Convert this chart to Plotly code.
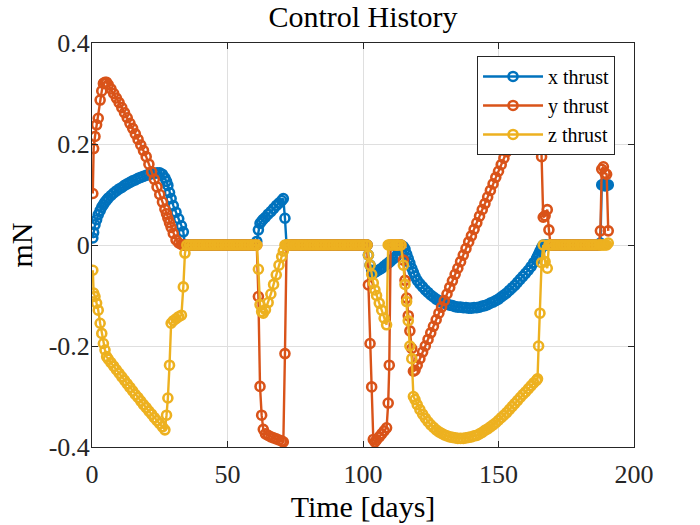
import plotly.graph_objects as go

# values, one shared time axis for the three thrust components
days = [
    0.3, 0.6, 1.1, 1.7, 2.3, 3.0, 3.6, 4.2, 4.8, 5.4,
    6, 7, 8, 9, 10, 11, 12, 13, 14, 15, 16, 17, 18, 19, 20, 21, 22, 23, 24, 25, 26,
    26.9, 27.5, 28.0, 28.6, 29.2, 30, 31, 32, 33, 33.7, 34.3, 35,
    36, 37, 38, 39, 40, 41, 42, 43, 44, 45, 46, 47, 48, 49, 50, 51, 52, 53, 54, 55, 56, 57, 58, 59, 60,
    60.8, 61.4, 62.0, 62.6, 63.2, 64, 65, 66, 67, 68, 69, 70, 70.6, 71.2, 71.8,
    72.5, 73, 74, 75, 76, 77, 78, 79, 80, 81, 82, 83, 84, 85, 86, 87, 88, 89, 90, 91, 92, 93, 94, 95,
    96, 97, 98, 99, 100, 101, 101.5,
    102.0, 102.6, 103.2, 103.8, 104.4, 105, 106, 106.9, 107.8, 108.7, 109.3, 109.7, 110.2, 111, 112,
    112.5, 113, 114, 114.9, 115.5, 116.1, 116.7, 117.3, 118, 118.6, 119.2,
    120, 121, 122, 123, 124, 125, 126, 127, 128, 129,
    130, 131, 132, 133, 134, 135, 136, 137, 138, 139,
    140, 141, 142, 143, 144, 145, 146, 147, 148, 149,
    150, 151, 152, 153, 154, 155, 156, 157, 158, 159,
    160, 161, 162, 163, 164,
    164.4, 164.8, 165.3, 165.9, 166.5, 167.2, 168, 168.6, 169.2, 170,
    171, 172, 173, 174, 175, 176, 177, 178, 179, 180, 181, 182, 183, 184, 185, 186, 187,
    187.6, 188.1, 188.7, 189.3, 189.9, 190.5,
]

x_thrust = [
    0.014, 0.025, 0.04, 0.05, 0.06, 0.068, 0.075, 0.08, 0.085, 0.089,
    0.093, 0.098, 0.103, 0.107, 0.111, 0.114, 0.118, 0.121, 0.124, 0.127, 0.129, 0.132, 0.134, 0.136,
    0.138, 0.14, 0.141, 0.142, 0.143, 0.143, 0.14,
    0.133, 0.126, 0.118, 0.104, 0.092, 0.078, 0.065, 0.052, 0.038, 0.026, 0, 0,
    0, 0, 0, 0, 0, 0, 0, 0, 0, 0, 0, 0, 0, 0, 0, 0, 0, 0, 0, 0, 0, 0, 0, 0, 0,
    0.007, 0.03, 0.043, 0.047, 0.051, 0.055, 0.061, 0.066, 0.072, 0.078, 0.083, 0.088, 0.092, 0.053, 0,
    0, 0, 0, 0, 0, 0, 0, 0, 0, 0, 0, 0, 0, 0, 0, 0, 0, 0, 0, 0, 0, 0, 0, 0,
    0, 0, 0, 0, 0, 0, 0,
    -0.02, -0.04, -0.05, -0.055, -0.054, -0.052, -0.049, -0.046, -0.042, -0.038, -0.036, -0.034,
    -0.032, -0.028, -0.024,
    -0.021, -0.01, 0, -0.003, -0.008, -0.018, -0.027, -0.036, -0.046, -0.054, -0.062,
    -0.07, -0.077, -0.083, -0.089, -0.094, -0.099, -0.103, -0.107, -0.11, -0.113,
    -0.115, -0.117, -0.119, -0.12, -0.122, -0.123, -0.123, -0.124, -0.124, -0.125,
    -0.125, -0.124, -0.124, -0.123, -0.121, -0.12, -0.118, -0.115, -0.113, -0.11,
    -0.107, -0.103, -0.099, -0.095, -0.09, -0.085, -0.08, -0.074, -0.068, -0.062,
    -0.056, -0.05, -0.043, -0.035, -0.027,
    -0.023, -0.018, -0.012, -0.005, 0, 0, 0, 0, 0, 0,
    0, 0, 0, 0, 0, 0, 0, 0, 0, 0, 0, 0, 0, 0, 0, 0, 0,
    0.004, 0.119, 0.12, 0.117, 0.118, 0.119,
]

y_thrust = [
    0.102, 0.191, 0.215, 0.238, 0.251, 0.287, 0.305, 0.32, 0.322, 0.322,
    0.317, 0.309, 0.3, 0.291, 0.282, 0.272, 0.262, 0.252, 0.241, 0.231, 0.22, 0.209, 0.198, 0.187,
    0.175, 0.16, 0.145, 0.13, 0.115, 0.1, 0.085,
    0.071, 0.062, 0.053, 0.044, 0.035, 0.023, 0.01, 0.004, 0.001, 0, 0, 0,
    0, 0, 0, 0, 0, 0, 0, 0, 0, 0, 0, 0, 0, 0, 0, 0, 0, 0, 0, 0, 0, 0, 0, 0, 0,
    0, -0.102, -0.28, -0.337, -0.365, -0.374, -0.377, -0.38, -0.382, -0.384, -0.386, -0.388, -0.39,
    -0.215, 0,
    0, 0, 0, 0, 0, 0, 0, 0, 0, 0, 0, 0, 0, 0, 0, 0, 0, 0, 0, 0, 0, 0, 0, 0,
    0, 0, 0, 0, 0, 0, 0,
    -0.079, -0.195, -0.281, -0.385, -0.39, -0.386, -0.38, -0.374, -0.368, -0.362, -0.313, -0.238,
    0, 0, 0,
    0, 0, 0, -0.03, -0.07, -0.105, -0.14, -0.17, -0.205, -0.25, -0.248,
    -0.238, -0.225, -0.212, -0.2, -0.187, -0.174, -0.161, -0.148, -0.135, -0.123,
    -0.11, -0.097, -0.084, -0.071, -0.058, -0.046, -0.033, -0.02, -0.007, 0.006,
    0.018, 0.031, 0.044, 0.057, 0.07, 0.082, 0.095, 0.108, 0.121, 0.134,
    0.146, 0.159, 0.172, 0.185, 0.198, 0.21, 0.223, 0.236, 0.249, 0.262,
    0.274, 0.287, 0.3, 0.313, 0.326,
    0.331, 0.336, 0.342, 0.175, 0.055, 0.058, 0.07, 0.03, 0, 0,
    0, 0, 0, 0, 0, 0, 0, 0, 0, 0, 0, 0, 0, 0, 0, 0, 0,
    0.028, 0.15, 0.155, 0.142, 0.14, 0.028,
]

z_thrust = [
    -0.05, -0.095, -0.102, -0.115, -0.129, -0.155, -0.175, -0.195, -0.208, -0.221,
    -0.226, -0.233, -0.24, -0.247, -0.254, -0.261, -0.268, -0.275, -0.282, -0.289, -0.296, -0.302,
    -0.309, -0.316, -0.322, -0.329, -0.335, -0.342, -0.348, -0.354, -0.36,
    -0.366, -0.337, -0.303, -0.238, -0.155, -0.15, -0.146, -0.142, -0.139, -0.083, -0.016, 0,
    0, 0, 0, 0, 0, 0, 0, 0, 0, 0, 0, 0, 0, 0, 0, 0, 0, 0, 0, 0, 0, 0, 0, 0, 0,
    0, -0.048, -0.118, -0.132, -0.135, -0.128, -0.114, -0.097, -0.078, -0.059, -0.04, -0.023, -0.012,
    0, 0,
    0, 0, 0, 0, 0, 0, 0, 0, 0, 0, 0, 0, 0, 0, 0, 0, 0, 0, 0, 0, 0, 0, 0, 0,
    0, 0, 0, 0, 0, 0, 0,
    -0.02, -0.04, -0.058, -0.075, -0.089, -0.1, -0.115, -0.129, -0.145, -0.158, 0, 0, 0, 0, 0,
    0, 0, 0, -0.04, -0.078, -0.112, -0.15, -0.2, -0.225, -0.3, -0.306,
    -0.316, -0.326, -0.335, -0.343, -0.35, -0.356, -0.361, -0.366, -0.37, -0.373,
    -0.376, -0.378, -0.38, -0.381, -0.382, -0.383, -0.383, -0.383, -0.382, -0.381,
    -0.38, -0.378, -0.377, -0.374, -0.371, -0.367, -0.364, -0.36, -0.356, -0.352,
    -0.347, -0.342, -0.337, -0.332, -0.326, -0.32, -0.314, -0.308, -0.302, -0.296,
    -0.291, -0.285, -0.279, -0.273, -0.268,
    -0.265, -0.2, -0.135, -0.035, 0, -0.033, -0.046, 0, 0, 0,
    0, 0, 0, 0, 0, 0, 0, 0, 0, 0, 0, 0, 0, 0, 0, 0, 0,
    0, 0, 0, 0, 0, 0.004,
]

series_names = ["x thrust", "y thrust", "z thrust"]
series_colors = ["#0072BD", "#D95319", "#EDB120"]

x_ticks = [0, 50, 100, 150, 200]
y_ticks = [-0.4, -0.2, 0, 0.2, 0.4]
y_tick_text = ["-0.4", "-0.2", "0", "0.2", "0.4"]

for s in (x_thrust, y_thrust, z_thrust):
    assert len(s) == len(days), (len(s), len(days))

FONT = "'Liberation Serif', 'DejaVu Serif', serif"
INK = "#262626"

fig = go.Figure()
for name, vals, col in zip(series_names, [x_thrust, y_thrust, z_thrust], series_colors):
    fig.add_trace(go.Scatter(
        x=days, y=vals, name=name, mode="lines+markers",
        line=dict(color=col, width=2.4),
        marker=dict(symbol="circle-open", size=9, color=col, line=dict(width=2.6, color=col)),
    ))

axis_style = dict(
    showgrid=True, gridcolor="#dfdfdf", gridwidth=1, zeroline=False,
    showline=True, linecolor=INK, linewidth=1, mirror="ticks",
    ticks="inside", ticklen=6, tickcolor=INK, automargin=False,
    tickfont=dict(family=FONT, size=26, color=INK),
)

fig.update_layout(
    width=700, height=525,
    margin=dict(l=92, r=66, t=43, b=78),
    paper_bgcolor="white", plot_bgcolor="white",
    title=dict(text="Control History", x=0.5, xref="paper", y=0.968, yref="container",
               xanchor="center", yanchor="middle", font=dict(family=FONT, size=30, color="black")),
    xaxis=dict(range=[0, 200], tickvals=x_ticks, ticklabelstandoff=4,
               title=dict(text="Time [days]", font=dict(family=FONT, size=30, color="black"), standoff=7),
               **axis_style),
    yaxis=dict(range=[-0.4, 0.4], tickvals=y_ticks, ticktext=y_tick_text, ticklabelstandoff=-4,
               title=dict(text="mN", font=dict(family=FONT, size=30, color="black"), standoff=7),
               **axis_style),
    legend=dict(x=0.965, y=0.968, xanchor="right", yanchor="top",
                bgcolor="white", bordercolor=INK, borderwidth=1,
                font=dict(family=FONT, size=20, color="black"),
                itemwidth=60, tracegroupgap=0),
    showlegend=True,
)

# drop the default body margin so the figure sits at the page corner
fig.write_html("out.html", config={"displayModeBar": False},
               post_script="document.body.style.margin = '0';")
